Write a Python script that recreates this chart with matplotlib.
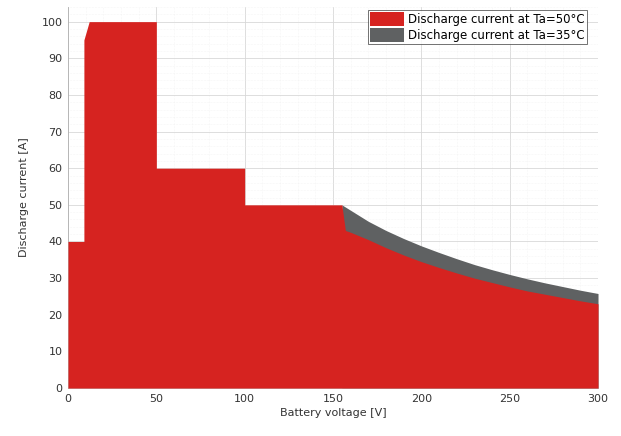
import matplotlib

matplotlib.use("Agg")
import matplotlib.pyplot as plt

# Battery voltage [V] / discharge current [A]
v_50 = [0, 9, 9, 12, 50, 50, 100, 100, 155, 157, 160, 170, 180, 190, 200,
        210, 220, 230, 240, 250, 260, 270, 280, 290, 300]
i_50 = [40, 40, 95, 100, 100, 60, 60, 50, 50, 43, 42.5, 40.5, 38.3, 36.3, 34.5,
        32.9, 31.4, 30.0, 28.8, 27.6, 26.5, 25.6, 24.7, 23.8, 23.0]

v_35 = [155, 160, 170, 180, 190, 200, 210, 220, 230, 240, 250, 260, 270,
        280, 290, 300]
i_35 = [50, 48.5, 45.5, 43.0, 40.8, 38.8, 37.0, 35.3, 33.7, 32.3, 31.0, 29.8,
        28.7, 27.7, 26.7, 25.8]

RED = "#d62320"
GREY = "#5f6162"

fig = plt.figure(figsize=(6.21, 4.36), dpi=100)
ax = fig.add_axes([0.1095, 0.11, 0.8535, 0.874])

ax.fill_between(v_35, 0, i_35, color=GREY, linewidth=0, zorder=2,
                label="Discharge current at Ta=35°C")
ax.fill_between(v_50, 0, i_50, color=RED, linewidth=0, zorder=3,
                label="Discharge current at Ta=50°C")

ax.set_xlim(0, 300)
ax.set_ylim(0, 104)
ax.set_xticks(range(0, 301, 50))
ax.set_yticks(range(0, 101, 10))
ax.set_xticks(range(0, 301, 10), minor=True)
ax.set_yticks(range(0, 105, 2), minor=True)
ax.grid(True, which="major", color="#d8d8d8", linewidth=0.6, zorder=0)
ax.grid(True, which="minor", color="#eeeeee", linewidth=0.4, linestyle=":", zorder=0)
ax.set_axisbelow(True)
ax.tick_params(which="both", length=0, labelsize=8, colors="#333333")
ax.tick_params(which="major", pad=4)
for s in ax.spines.values():
    s.set_color("#b0b0b0")
    s.set_linewidth(0.6)
ax.spines["top"].set_visible(False)
ax.spines["right"].set_visible(False)

ax.set_xlabel("Battery voltage [V]", fontsize=8, color="#333333", labelpad=3)
ax.set_ylabel("Discharge current [A]", fontsize=8, color="#333333", labelpad=9)

handles, labels = ax.get_legend_handles_labels()
leg = ax.legend(handles[::-1], labels[::-1], loc="upper right",
                bbox_to_anchor=(0.979, 0.992), fontsize=8.5,
                frameon=True, fancybox=False, edgecolor="#333333",
                borderaxespad=0, handlelength=2.9, handleheight=1.5,
                handletextpad=0.4, labelspacing=0.15, borderpad=0.15)
leg.get_frame().set_linewidth(0.6)

fig.savefig("out.png", dpi=100)
